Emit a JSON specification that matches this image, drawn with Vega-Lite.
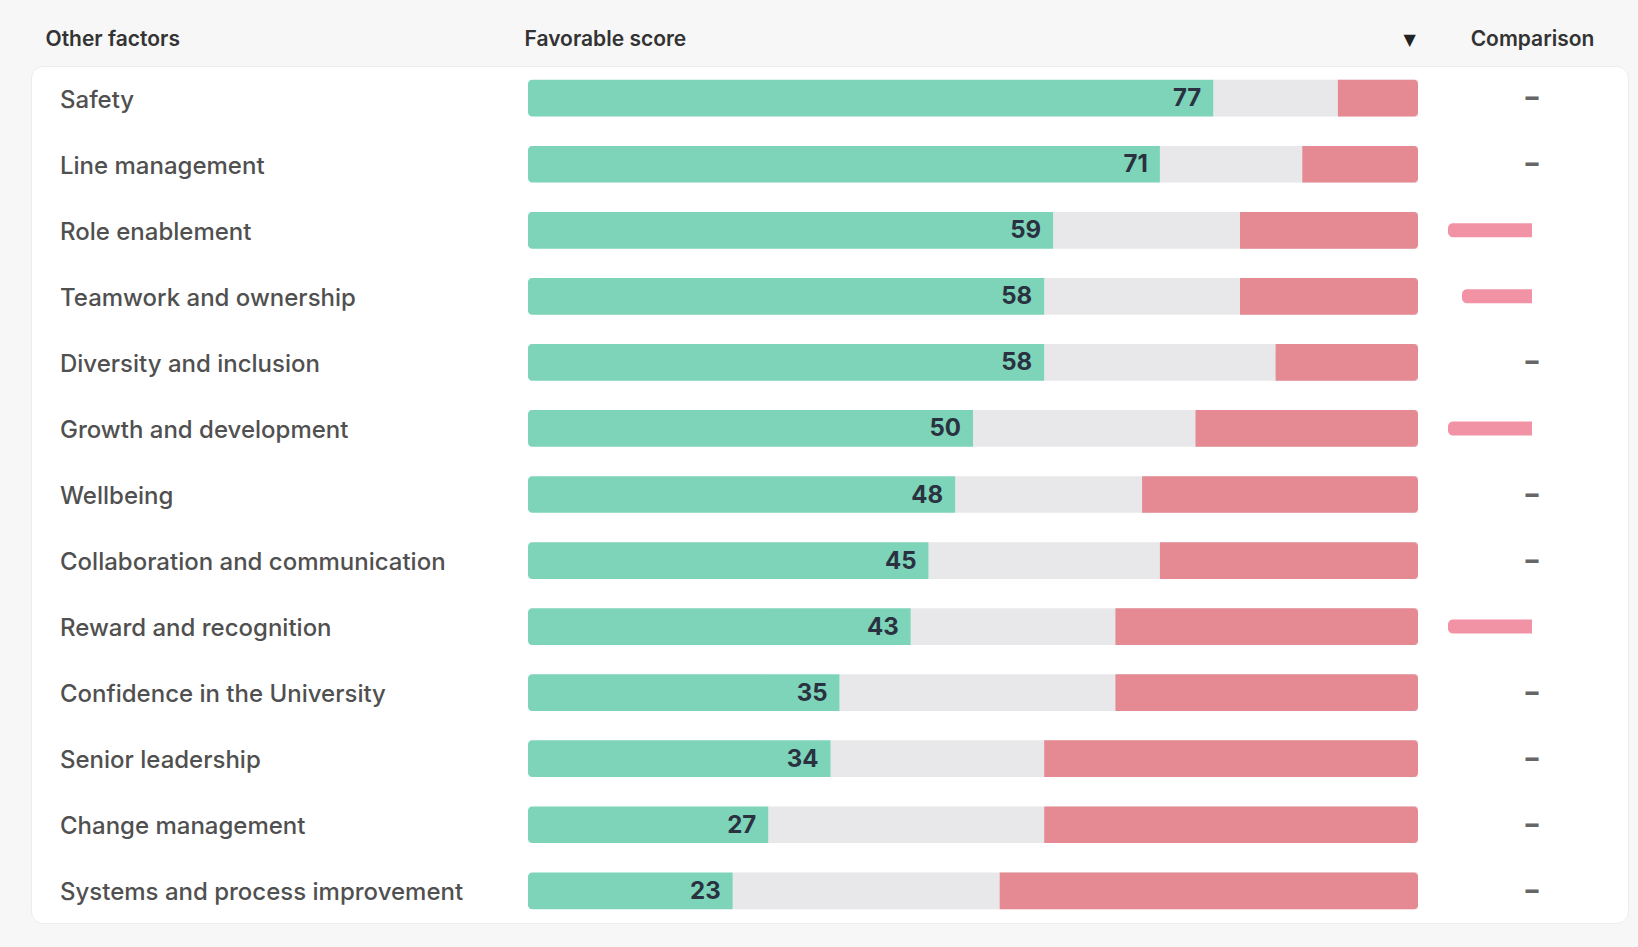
{
  "$schema": "https://vega.github.io/schema/vega-lite/v6.json",
  "autosize": {"type": "none"},
  "width": 1597,
  "height": 857,
  "padding": {"left": 31, "top": 66, "right": 10, "bottom": 24},
  "background": "#f7f7f7",
  "config": {
    "view": {"fill": "white", "stroke": "#ececec", "strokeWidth": 1, "cornerRadius": 12},
    "font": "Inter"
  },
  "data": {
    "values": [
      {"factor": "Safety", "fav": 77, "neu": 14, "unf": 9, "cmp": null},
      {"factor": "Line management", "fav": 71, "neu": 16, "unf": 13, "cmp": null},
      {"factor": "Role enablement", "fav": 59, "neu": 21, "unf": 20, "cmp": -6},
      {"factor": "Teamwork and ownership", "fav": 58, "neu": 22, "unf": 20, "cmp": -5},
      {"factor": "Diversity and inclusion", "fav": 58, "neu": 26, "unf": 16, "cmp": null},
      {"factor": "Growth and development", "fav": 50, "neu": 25, "unf": 25, "cmp": -6},
      {"factor": "Wellbeing", "fav": 48, "neu": 21, "unf": 31, "cmp": null},
      {"factor": "Collaboration and communication", "fav": 45, "neu": 26, "unf": 29, "cmp": null},
      {"factor": "Reward and recognition", "fav": 43, "neu": 23, "unf": 34, "cmp": -6},
      {"factor": "Confidence in the University", "fav": 35, "neu": 31, "unf": 34, "cmp": null},
      {"factor": "Senior leadership", "fav": 34, "neu": 24, "unf": 42, "cmp": null},
      {"factor": "Change management", "fav": 27, "neu": 31, "unf": 42, "cmp": null},
      {"factor": "Systems and process improvement", "fav": 23, "neu": 30, "unf": 47, "cmp": null}
    ]
  },
  "transform": [{"calculate": "100 - datum.unf", "as": "unfStart"}],
  "layer": [
    {
      "layer": [
        {
          "mark": {"type": "bar", "color": "#e8e8ea"},
          "encoding": {
            "y": {
              "field": "factor",
              "type": "nominal",
              "sort": null,
              "scale": {"paddingInner": 0.445, "paddingOuter": 0.21},
              "axis": {
                "title": "Other factors",
                "titleAngle": 0,
                "titleX": 14,
                "titleY": -26.5,
                "titleAlign": "left",
                "titleBaseline": "middle",
                "titleFont": "Inter",
                "titleFontSize": 21,
                "titleFontWeight": 600,
                "titleColor": "#333333",
                "labelAlign": "left",
                "labelBaseline": "middle",
                "labelPadding": -28.5,
                "labelOffset": 2.5,
                "labelFont": "Inter",
                "labelFontSize": 24,
                "labelFontWeight": 500,
                "labelColor": "#505050",
                "labelLimit": 0,
                "ticks": false,
                "tickSize": 0,
                "domain": false,
                "grid": false
              }
            },
            "x": {
              "field": "fav",
              "type": "quantitative",
              "scale": {"domain": [0, 100], "range": [497, 1387]},
              "axis": {
                "orient": "top",
                "values": [99],
                "labelExpr": "'▼'",
                "labelFont": "DejaVu Sans",
                "labelFontSize": 16,
                "labelColor": "#222222",
                "labelBaseline": "middle",
                "labelPadding": 26.5,
                "ticks": false,
                "tickSize": 0,
                "domain": false,
                "grid": false,
                "title": "Favorable score",
                "titleX": 493,
                "titleY": -26.5,
                "titleAlign": "left",
                "titleAnchor": "start",
                "titleBaseline": "middle",
                "titleFont": "Inter",
                "titleFontSize": 21,
                "titleFontWeight": 600,
                "titleColor": "#333333"
              }
            },
            "x2": {"datum": 100}
          }
        },
        {
          "mark": {"type": "bar", "color": "#7dd4b9", "cornerRadiusTopLeft": 4, "cornerRadiusBottomLeft": 4},
          "encoding": {
            "y": {"field": "factor", "type": "nominal", "sort": null},
            "x": {"field": "fav", "type": "quantitative"},
            "x2": {"datum": 0}
          }
        },
        {
          "mark": {"type": "bar", "color": "#e58a93", "cornerRadiusTopRight": 4, "cornerRadiusBottomRight": 4},
          "encoding": {
            "y": {"field": "factor", "type": "nominal", "sort": null},
            "x": {"field": "unfStart", "type": "quantitative"},
            "x2": {"datum": 100}
          }
        },
        {
          "mark": {"type": "text", "align": "right", "baseline": "middle", "dx": -12, "dy": 1, "font": "Inter", "fontSize": 24, "fontWeight": 700, "color": "#2a3140"},
          "encoding": {
            "y": {"field": "factor", "type": "nominal", "sort": null},
            "x": {"field": "fav", "type": "quantitative"},
            "text": {"field": "fav", "type": "quantitative"}
          }
        }
      ]
    },
    {
      "layer": [
        {
          "transform": [{"filter": "datum.cmp != null"}],
          "mark": {"type": "bar", "color": "#f293a5", "height": 14, "cornerRadiusTopLeft": 5, "cornerRadiusBottomLeft": 5},
          "encoding": {
            "y": {"field": "factor", "type": "nominal", "sort": null},
            "x": {
              "field": "cmp",
              "type": "quantitative",
              "scale": {"domain": [-6, 0], "range": [1417, 1501]},
              "axis": {
                "orient": "top",
                "labels": false,
                "ticks": false,
                "domain": false,
                "grid": false,
                "title": "Comparison",
                "titleX": 1501,
                "titleY": -26.5,
                "titleAlign": "center",
                "titleAnchor": "middle",
                "titleBaseline": "middle",
                "titleFont": "Inter",
                "titleFontSize": 21,
                "titleFontWeight": 600,
                "titleColor": "#333333"
              }
            },
            "x2": {"datum": 0}
          }
        },
        {
          "transform": [{"filter": "datum.cmp == null"}],
          "mark": {"type": "text", "text": "–", "align": "center", "baseline": "middle", "font": "Inter", "fontSize": 26, "fontWeight": 800, "color": "#666666"},
          "encoding": {
            "y": {"field": "factor", "type": "nominal", "sort": null},
            "x": {"datum": 0, "type": "quantitative"}
          }
        }
      ]
    }
  ],
  "resolve": {"scale": {"x": "independent"}, "axis": {"x": "independent"}}
}
